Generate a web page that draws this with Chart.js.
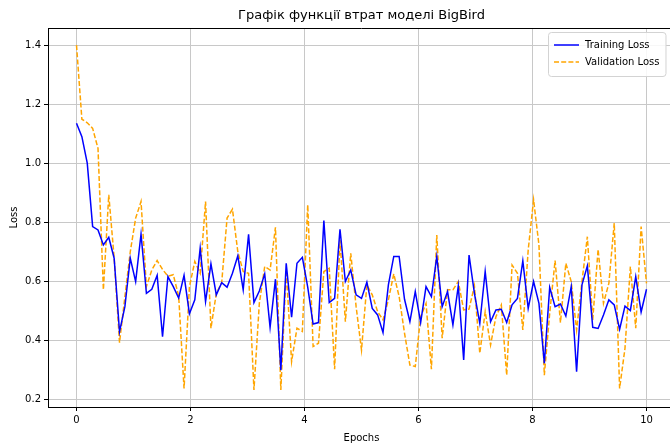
<!DOCTYPE html>
<html><head><meta charset="utf-8">
<script src="https://cdn.jsdelivr.net/npm/chart.js@4.4.1/dist/chart.umd.min.js"></script>
<style>html,body{margin:0;padding:0;background:#fff;overflow:hidden;width:670px;height:445px}canvas{display:block}</style>
</head><body>
<canvas id="c" width="680" height="445"></canvas>
<script>
const chartTitle = "Графік функції втрат моделі BigBird";
const xAxisTitle = "Epochs";
const yAxisTitle = "Loss";
const seriesNames = ["Training Loss", "Validation Loss"];
const xTicks = [0, 2, 4, 6, 8, 10];
const yTicks = [0.2, 0.4, 0.6, 0.8, 1.0, 1.2, 1.4];

const trainingLoss = [
  1.135, 1.09, 1.0, 0.785, 0.774, 0.723, 0.749, 0.678, 0.429, 0.514,
  0.678, 0.599, 0.760, 0.559, 0.573, 0.620, 0.412, 0.616, 0.582, 0.543,
  0.620, 0.49, 0.537, 0.712, 0.531, 0.659, 0.554, 0.595, 0.580, 0.627,
  0.686, 0.571, 0.759, 0.528, 0.567, 0.625, 0.444, 0.607, 0.299, 0.661,
  0.478, 0.661, 0.681, 0.58, 0.455, 0.460, 0.806, 0.528, 0.542, 0.776,
  0.599, 0.638, 0.554, 0.542, 0.597, 0.508, 0.486, 0.426, 0.588, 0.684,
  0.684, 0.539, 0.463, 0.565, 0.460, 0.582, 0.548, 0.684, 0.514, 0.565,
  0.452, 0.584, 0.333, 0.689, 0.559, 0.457, 0.633, 0.463, 0.503, 0.505,
  0.460, 0.520, 0.542, 0.669, 0.508, 0.599, 0.525, 0.322, 0.579, 0.514,
  0.523, 0.482, 0.582, 0.294, 0.588, 0.652, 0.444, 0.440, 0.486, 0.537,
  0.520, 0.437, 0.516, 0.501, 0.616, 0.496, 0.573
];
const validationLoss = [
  1.40, 1.149, 1.137, 1.118, 1.05, 0.571, 0.893, 0.68, 0.392, 0.548,
  0.70, 0.814, 0.870, 0.582, 0.638, 0.670, 0.64, 0.617, 0.622, 0.55,
  0.237, 0.582, 0.667, 0.627, 0.870, 0.441, 0.559, 0.595, 0.814, 0.844,
  0.700, 0.633, 0.627, 0.232, 0.525, 0.650, 0.638, 0.783, 0.232, 0.638,
  0.328, 0.441, 0.430, 0.859, 0.379, 0.390, 0.633, 0.644, 0.302, 0.740,
  0.463, 0.695, 0.514, 0.367, 0.588, 0.554, 0.497, 0.469, 0.537, 0.625,
  0.548, 0.424, 0.316, 0.311, 0.480, 0.525, 0.302, 0.757, 0.407, 0.571,
  0.571, 0.599, 0.503, 0.506, 0.584, 0.356, 0.497, 0.384, 0.480, 0.520,
  0.282, 0.655, 0.627, 0.435, 0.706, 0.876, 0.723, 0.282, 0.492, 0.670,
  0.460, 0.661, 0.599, 0.435, 0.599, 0.751, 0.469, 0.708, 0.525, 0.593,
  0.797, 0.237, 0.373, 0.650, 0.441, 0.785, 0.593
];
const epochs = trainingLoss.map((_, i) => i * 10 / (trainingLoss.length - 1));

const FONT = "'DejaVu Sans', 'Liberation Sans', sans-serif";

const decor = {
  id: 'decor',
  afterDraw(chart) {
    const ctx = chart.ctx, a = chart.chartArea;
    ctx.save();
    // top spine
    ctx.strokeStyle = '#000'; ctx.lineWidth = 1;
    ctx.beginPath(); ctx.moveTo(a.left, a.top + 0.5); ctx.lineTo(a.right, a.top + 0.5); ctx.stroke();
    // title
    ctx.fillStyle = '#000';
    ctx.font = '13px ' + FONT;
    ctx.textAlign = 'center'; ctx.textBaseline = 'middle';
    ctx.fillText(chartTitle, (a.left + a.right) / 2, 16);
    // axis titles
    ctx.font = '10px ' + FONT;
    ctx.fillText(xAxisTitle, (a.left + a.right) / 2, 438);
    ctx.save();
    ctx.translate(14, (a.top + a.bottom) / 2);
    ctx.rotate(-Math.PI / 2);
    ctx.fillText(yAxisTitle, 0, 0);
    ctx.restore();
    // legend
    ctx.font = '10px ' + FONT;
    const ds = chart.data.datasets;
    const tw = Math.max(...ds.map(d => ctx.measureText(d.label).width));
    const bx = 548, by = 32, bh = 44, bw = 37 + tw + 6;
    ctx.beginPath();
    ctx.roundRect(bx + 0.5, by + 0.5, bw, bh, 3);
    ctx.fillStyle = 'rgba(255,255,255,0.85)'; ctx.fill();
    ctx.strokeStyle = '#d3d3d3'; ctx.lineWidth = 1; ctx.stroke();
    ds.forEach((d, i) => {
      const y = by + 13 + i * 17;
      ctx.beginPath();
      ctx.setLineDash(d.borderDash || []);
      ctx.strokeStyle = d.borderColor; ctx.lineWidth = d.borderWidth;
      ctx.moveTo(bx + 6, y); ctx.lineTo(bx + 31, y); ctx.stroke();
      ctx.setLineDash([]);
      ctx.fillStyle = '#000'; ctx.textAlign = 'left'; ctx.textBaseline = 'middle';
      ctx.fillText(d.label, bx + 37, y + 0.5);
    });
    ctx.restore();
  }
};

const tickFont = { family: FONT, size: 10 };

new Chart(document.getElementById('c'), {
  type: 'line',
  data: {
    datasets: [
      { label: seriesNames[0], data: epochs.map((x, i) => ({ x, y: trainingLoss[i] })),
        borderColor: '#0000ff', borderWidth: 1.5, pointRadius: 0, tension: 0, fill: false },
      { label: seriesNames[1], data: epochs.map((x, i) => ({ x, y: validationLoss[i] })),
        borderColor: '#ffa500', borderWidth: 1.5, borderDash: [5, 2.2], pointRadius: 0, tension: 0, fill: false }
    ]
  },
  options: {
    responsive: false, animation: false, devicePixelRatio: 1,
    layout: { padding: { top: 28, right: 5, left: 0, bottom: 0 } },
    plugins: { legend: { display: false }, title: { display: false }, tooltip: { enabled: false } },
    scales: {
      x: {
        type: 'linear', min: -0.5, max: 10.5,
        afterBuildTicks: s => { s.ticks = xTicks.map(v => ({ value: v })); },
        afterFit: s => { s.height = 38; },
        ticks: { font: tickFont, color: '#000', padding: 3, maxRotation: 0, autoSkip: false, callback: v => String(v) },
        grid: { color: '#c8c8c8', lineWidth: 1, tickLength: 4, tickColor: '#000', drawTicks: true },
        border: { display: true, color: '#000', width: 1 }
      },
      y: {
        type: 'linear', min: 0.174, max: 1.458,
        afterBuildTicks: s => { s.ticks = yTicks.map(v => ({ value: v })); },
        afterFit: s => { s.width = 48; },
        ticks: { font: tickFont, color: '#000', padding: 3, autoSkip: false, callback: v => Number(v).toFixed(1) },
        grid: { color: '#c8c8c8', lineWidth: 1, tickLength: 4, tickColor: '#000', drawTicks: true },
        border: { display: true, color: '#000', width: 1 }
      }
    }
  },
  plugins: [decor]
});
</script>
</body></html>
